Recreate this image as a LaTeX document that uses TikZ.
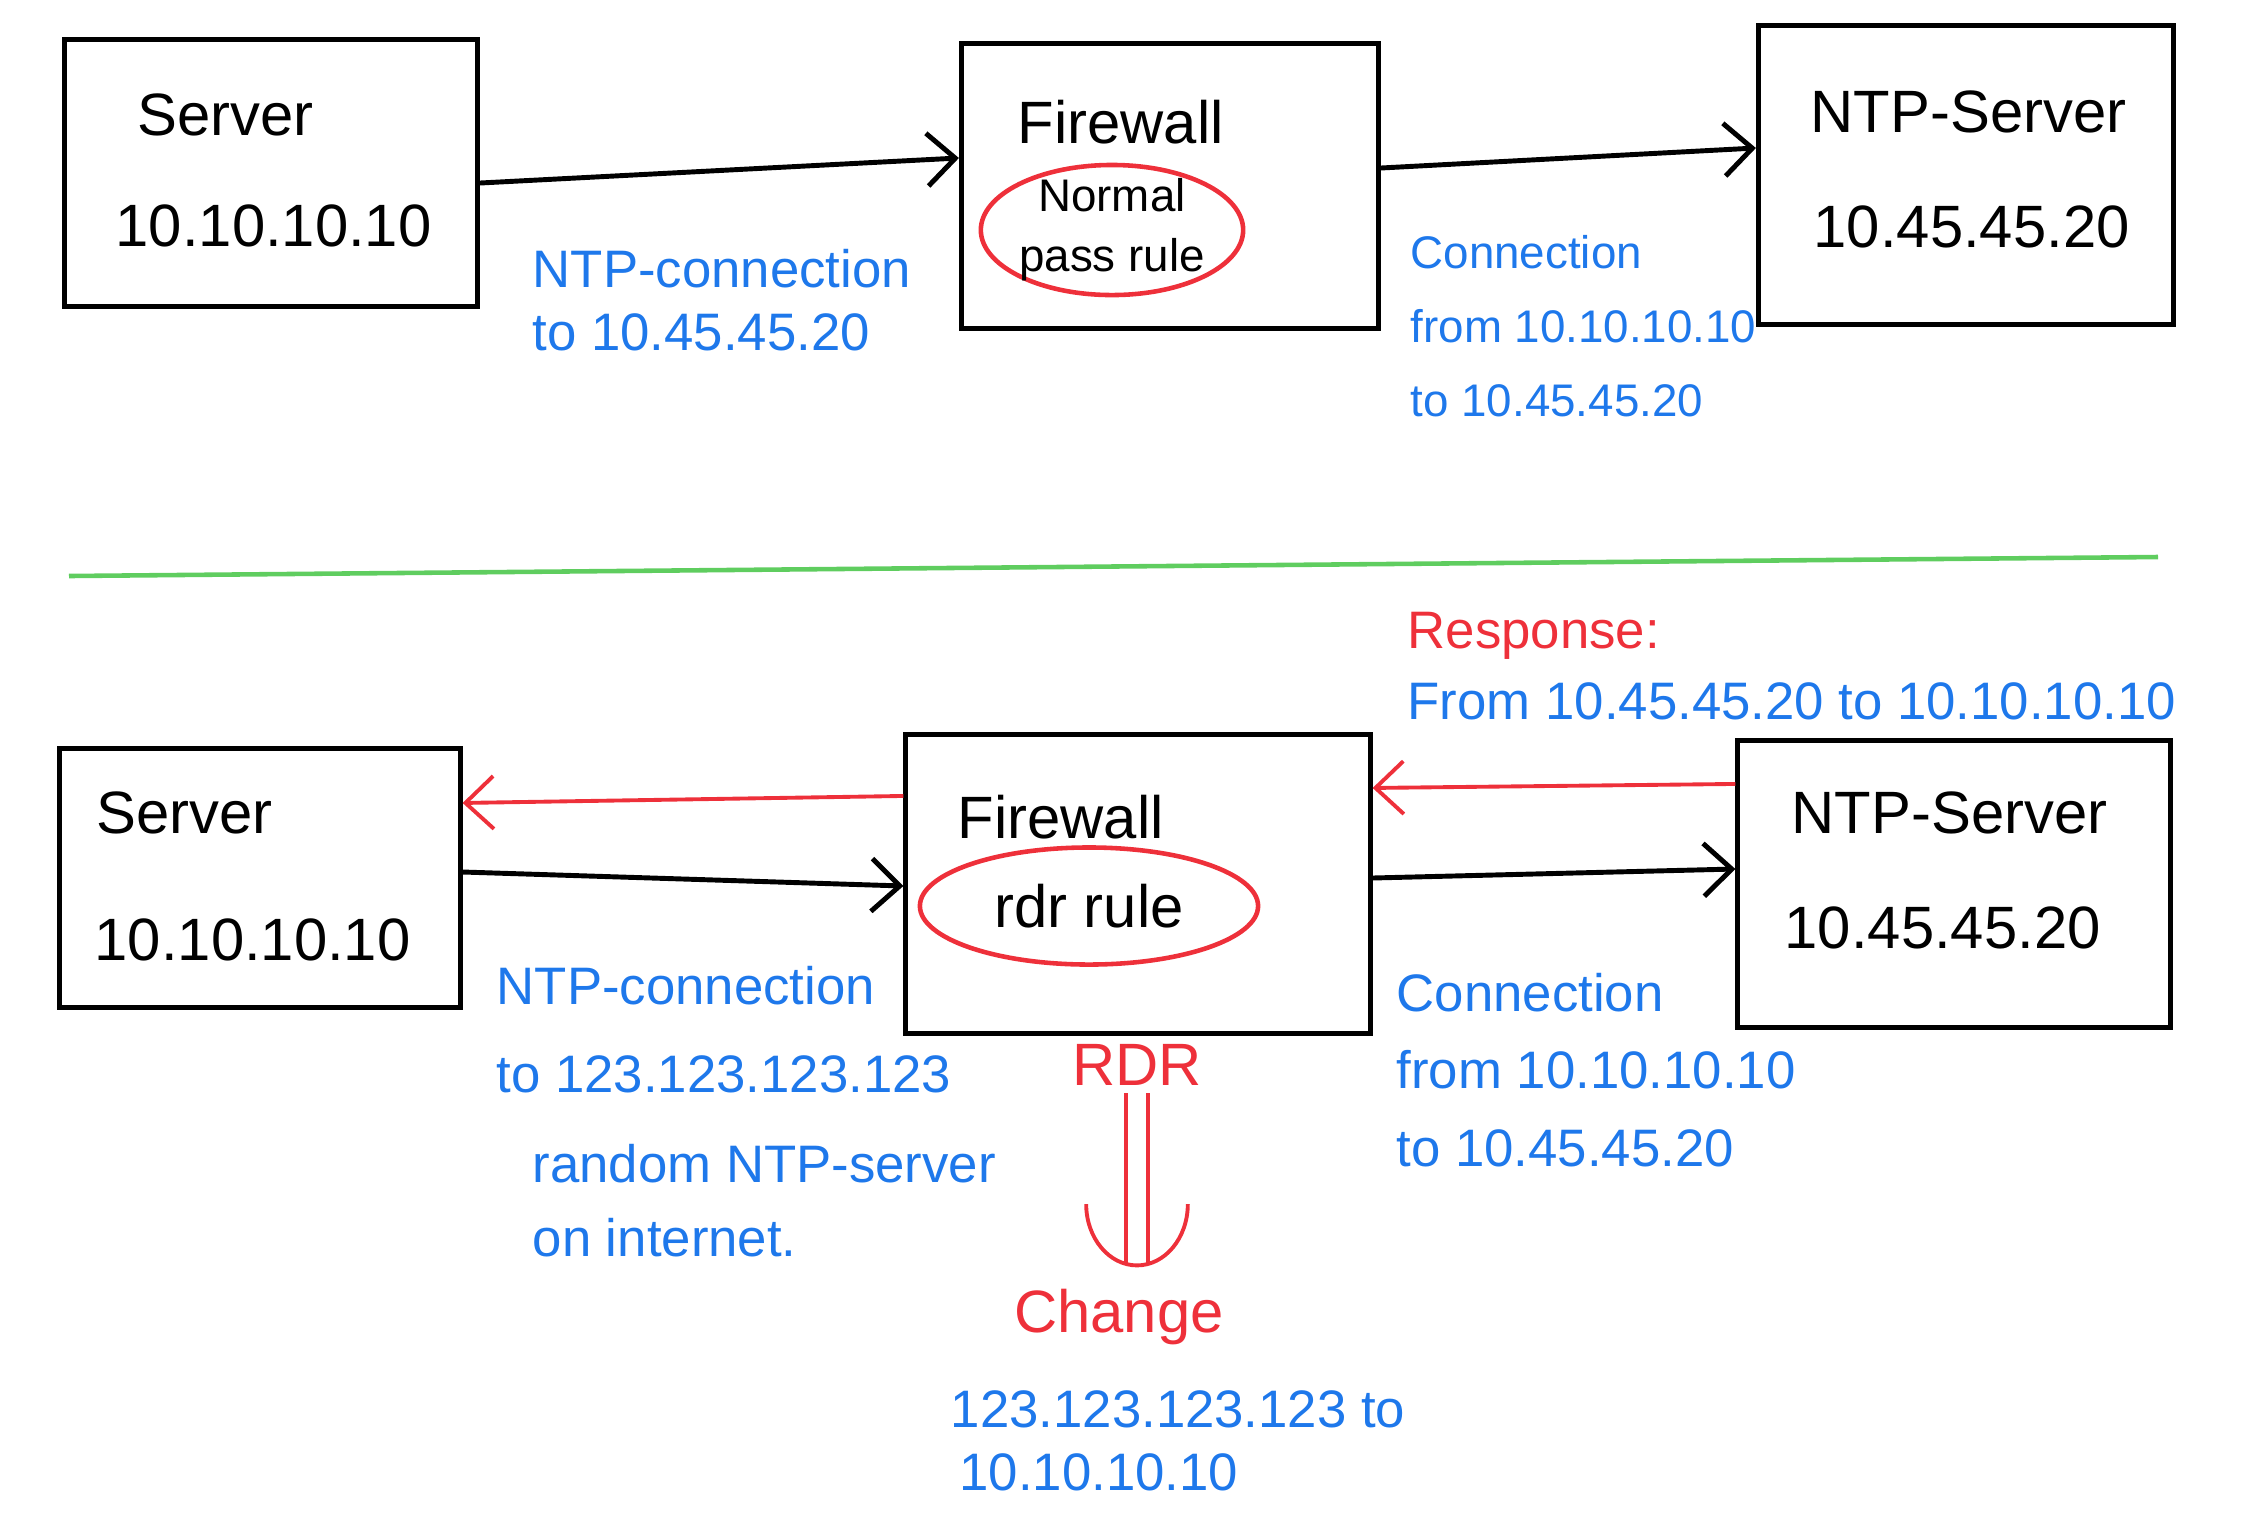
\documentclass[tikz,border=0pt]{standalone}
\usepackage{fontspec}
\setmainfont{Liberation Sans}
\usetikzlibrary{arrows.meta,shapes.geometric}

\definecolor{penblue}{RGB}{30,120,235}
\definecolor{penred}{RGB}{238,48,58}
\definecolor{pengreen}{RGB}{95,205,95}

\tikzset{
  box/.style={draw,line width=1.4pt,inner sep=0pt},
  hand/.style={font=\fontsize{17}{21}\selectfont,anchor=west,inner sep=0pt},
  note/.style={text=penblue,font=\fontsize{15}{21}\selectfont,anchor=west,align=left,inner sep=0pt},
  rulering/.style={draw=penred,ellipse,line width=1.3pt,inner sep=0pt,align=center,font=\fontsize{17}{22}\selectfont},
  link/.style={line width=1.4pt,-{Straight Barb[length=8pt,width=15pt]}},
  back/.style={link,draw=penred,line width=1.1pt},
}

\begin{document}
\begin{tikzpicture}[x=0.01cm,y=-0.01cm]
\useasboundingbox (0,0) rectangle (2256,1538);

% normal setup
\node[box,minimum width=4.13cm,minimum height=2.66cm] (srvA) at (271,173) {};
\node[box,minimum width=4.17cm,minimum height=2.85cm] (fwA) at (1170,186) {};
\node[box,minimum width=4.15cm,minimum height=2.98cm] (ntpA) at (1966,175) {};
\node[hand] (srvAname) at (137,115) {Server};
\node[hand] (srvAip) at (115,226) {10.10.10.10};
\node[hand] (fwAname) at (1017,122) {Firewall};
\node[rulering,font=\fontsize{13}{17}\selectfont,inner ysep=-2pt,minimum width=2.23cm,minimum height=1.30cm] (passrule) at (1112,230) {Normal\\pass rule};
\node[hand] (ntpAname) at (1810,112) {NTP-Server};
\node[hand] (ntpAip) at (1813,227) {10.45.45.20};
\draw[link] ([yshift=-0.1cm]srvA.east) -- ([yshift=0.28cm]fwA.west);
\draw[link] ([yshift=0.18cm]fwA.east) -- ([yshift=0.27cm]ntpA.west);
\node[note] (reqA) at (532,300) {NTP-connection\\[-3pt]to 10.45.45.20};
\node[note,font=\fontsize{13}{21}\selectfont] (fwdA) at (1410,326) {Connection\\from 10.10.10.10\\to 10.45.45.20};

\draw[pengreen,line width=1.3pt] (69,576) -- (2158,557);

% rdr setup
\node[box,minimum width=4.00cm,minimum height=2.59cm] (srvB) at (260,878) {};
\node[box,minimum width=4.64cm,minimum height=2.99cm] (fwB) at (1138,884) {};
\node[box,minimum width=4.32cm,minimum height=2.87cm] (ntpB) at (1954,884) {};
\node[hand] (srvBname) at (96,813) {Server};
\node[hand] (srvBip) at (94,940) {10.10.10.10};
\node[hand] (fwBname) at (957,817) {Firewall};
\node[rulering,minimum width=3.38cm,minimum height=1.17cm] (rdrrule) at (1089,906) {rdr rule};
\node[hand] (ntpBname) at (1791,813) {NTP-Server};
\node[hand] (ntpBip) at (1784,928) {10.45.45.20};
\draw[back] ([yshift=0.88cm]fwB.west) -- ([yshift=0.75cm]srvB.east);
\draw[link] ([yshift=0.06cm]srvB.east) -- ([yshift=-0.02cm]fwB.west);
\draw[back] ([yshift=1.0cm]ntpB.west) -- ([yshift=0.96cm]fwB.east);
\draw[link] ([yshift=0.06cm]fwB.east) -- ([yshift=0.15cm]ntpB.west);
\node[anchor=west,inner sep=0pt,text=penred,font=\fontsize{15}{21}\selectfont] (resp) at (1407,636) {Response:};
\node[note] (respip) at (1407,701) {From 10.45.45.20 to 10.10.10.10};
\node[note] (reqB) at (496,1030) {NTP-connection\\[4pt]to 123.123.123.123};
\node[note] (inet) at (532,1201) {random NTP-server\\on internet.};
\node[note] (fwdB) at (1396,1070) {Connection\\[1pt]from 10.10.10.10\\[1pt]to 10.45.45.20};
\node[text=penred,inner sep=2pt,font=\fontsize{17}{21}\selectfont] (rdr) at (1137,1065) {RDR};
\node[text=penred,inner sep=6pt,font=\fontsize{17}{21}\selectfont] (chg) at (1119,1317) {Change};
\draw[penred,line width=1.1pt,double,double distance=5pt,-{Arc Barb[length=18pt,width=30pt]}] (rdr.south) -- (rdr.south |- chg.north);
\node[note] (chgip) at (950,1441) {123.123.123.123 to\\[-3pt]\,10.10.10.10};
\end{tikzpicture}
\end{document}
